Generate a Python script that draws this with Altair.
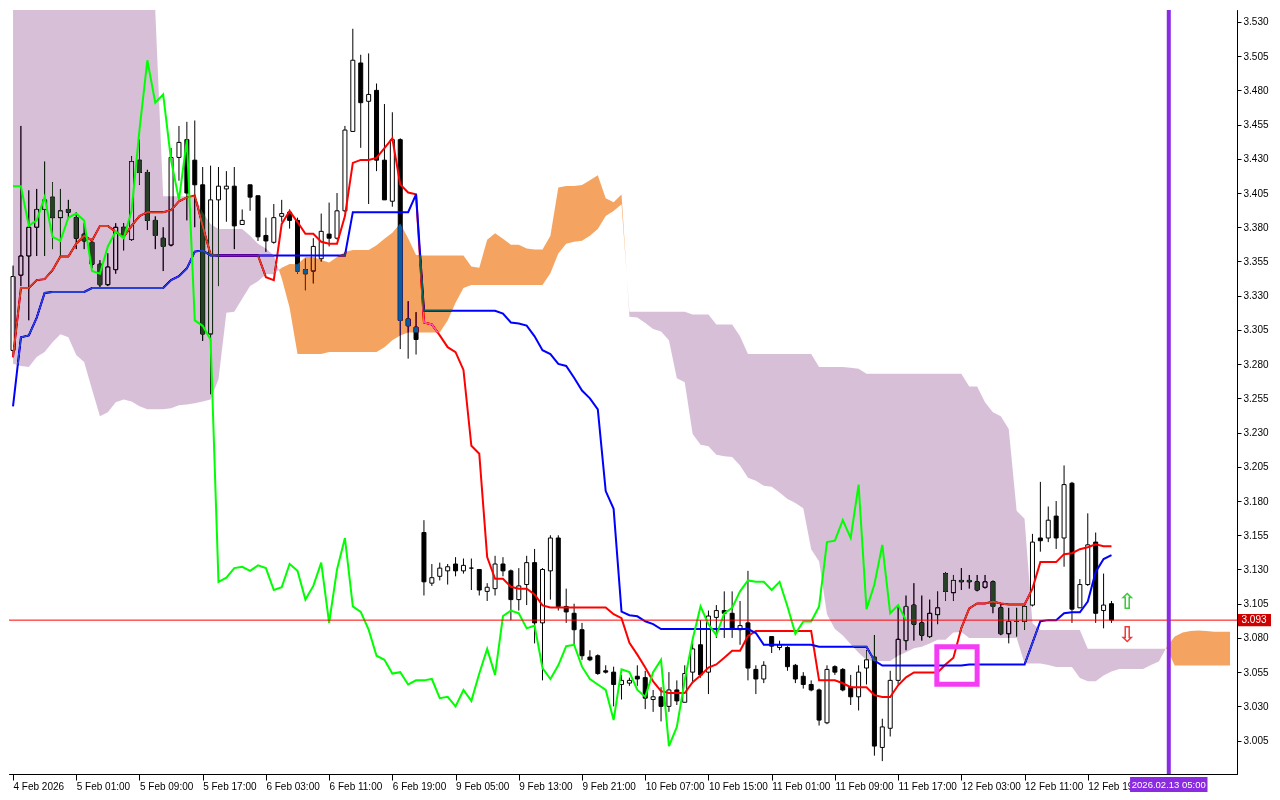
import altair as alt
import pandas as pd

# ---------------- data (H1 bars) ----------------
opens = [3.290, 3.345, 3.359, 3.380, 3.393, 3.402, 3.387, 3.393, 3.387, 3.375,
         3.369, 3.353, 3.338, 3.349, 3.380, 3.371, 3.429, 3.420, 3.385, 3.372,
         3.367, 3.431, 3.444, 3.429, 3.411, 3.302, 3.400, 3.408, 3.410, 3.382,
         3.411, 3.403, 3.374, 3.369, 3.388, 3.391, 3.385, 3.349, 3.348, 3.357,
         3.375, 3.372, 3.392, 3.450, 3.500, 3.472, 3.480, 3.429, 3.399, 3.444,
         3.313, 3.307, 3.157, 3.120, 3.125, 3.129, 3.134, 3.129, 3.131, 3.130,
         3.114, 3.116, 3.134, 3.129, 3.108, 3.119, 3.135, 3.091, 3.129, 3.153,
         3.103, 3.098, 3.086, 3.066, 3.067, 3.056, 3.055, 3.046, 3.047, 3.052,
         3.051, 3.035, 3.037, 3.030, 3.042, 3.033, 3.055, 3.075, 3.055, 3.095,
         3.100, 3.098, 3.086, 3.091, 3.057, 3.050, 3.081, 3.073, 3.073, 3.060,
         3.052, 3.046, 3.042, 3.018, 3.059, 3.057, 3.044, 3.037, 3.058, 3.066,
         3.000, 3.014, 3.049, 3.078, 3.104, 3.091, 3.081, 3.097, 3.127, 3.113,
         3.122, 3.122, 3.121, 3.117, 3.121, 3.102, 3.083, 3.092, 3.092, 3.104,
         3.153, 3.153, 3.169, 3.153, 3.193, 3.102, 3.119, 3.150, 3.100, 3.105]
highs = [3.352, 3.454, 3.407, 3.408, 3.428, 3.413, 3.408, 3.400, 3.391, 3.383,
         3.372, 3.356, 3.361, 3.383, 3.383, 3.432, 3.444, 3.422, 3.388, 3.380,
         3.438, 3.454, 3.457, 3.458, 3.424, 3.425, 3.424, 3.421, 3.424, 3.393,
         3.411, 3.403, 3.387, 3.397, 3.400, 3.393, 3.387, 3.357, 3.372, 3.390,
         3.398, 3.405, 3.454, 3.525, 3.506, 3.507, 3.485, 3.470, 3.464, 3.445,
         3.326, 3.318, 3.166, 3.134, 3.135, 3.134, 3.139, 3.138, 3.138, 3.130,
         3.120, 3.140, 3.139, 3.130, 3.131, 3.140, 3.145, 3.131, 3.155, 3.155,
         3.116, 3.105, 3.091, 3.071, 3.068, 3.060, 3.059, 3.053, 3.051, 3.060,
         3.056, 3.042, 3.044, 3.055, 3.049, 3.060, 3.076, 3.093, 3.100, 3.104,
         3.114, 3.114, 3.107, 3.129, 3.060, 3.063, 3.081, 3.078, 3.074, 3.061,
         3.055, 3.049, 3.043, 3.060, 3.060, 3.058, 3.053, 3.060, 3.071, 3.082,
         3.021, 3.056, 3.103, 3.111, 3.120, 3.111, 3.108, 3.114, 3.128, 3.126,
         3.131, 3.126, 3.126, 3.126, 3.122, 3.105, 3.102, 3.102, 3.104, 3.156,
         3.194, 3.176, 3.180, 3.206, 3.194, 3.123, 3.171, 3.157, 3.127, 3.107]
lows = [3.285, 3.337, 3.312, 3.359, 3.359, 3.364, 3.358, 3.386, 3.364, 3.364,
        3.350, 3.336, 3.337, 3.346, 3.363, 3.370, 3.411, 3.378, 3.364, 3.348,
        3.366, 3.414, 3.385, 3.380, 3.297, 3.258, 3.337, 3.384, 3.364, 3.382,
        3.392, 3.370, 3.362, 3.368, 3.384, 3.379, 3.346, 3.334, 3.339, 3.355,
        3.366, 3.371, 3.391, 3.450, 3.438, 3.397, 3.421, 3.400, 3.395, 3.291,
        3.284, 3.287, 3.111, 3.118, 3.122, 3.119, 3.125, 3.127, 3.115, 3.111,
        3.107, 3.111, 3.125, 3.093, 3.100, 3.104, 3.076, 3.049, 3.108, 3.100,
        3.091, 3.075, 3.064, 3.063, 3.053, 3.054, 3.030, 3.035, 3.045, 3.045,
        3.028, 3.026, 3.019, 3.026, 3.031, 3.033, 3.047, 3.051, 3.039, 3.080,
        3.080, 3.080, 3.075, 3.049, 3.039, 3.047, 3.069, 3.071, 3.056, 3.047,
        3.043, 3.041, 3.016, 3.017, 3.053, 3.041, 3.031, 3.027, 3.046, 2.994,
        2.990, 3.008, 3.046, 3.071, 3.078, 3.078, 3.080, 3.090, 3.107, 3.107,
        3.115, 3.116, 3.114, 3.116, 3.098, 3.082, 3.076, 3.081, 3.086, 3.103,
        3.143, 3.150, 3.145, 3.132, 3.091, 3.102, 3.118, 3.091, 3.087, 3.091]
closes = [3.344, 3.359, 3.380, 3.393, 3.400, 3.387, 3.392, 3.391, 3.372, 3.370,
          3.353, 3.338, 3.351, 3.380, 3.375, 3.428, 3.420, 3.385, 3.374, 3.366,
          3.431, 3.442, 3.405, 3.411, 3.302, 3.400, 3.410, 3.410, 3.381, 3.385,
          3.402, 3.373, 3.370, 3.387, 3.390, 3.385, 3.348, 3.346, 3.366, 3.377,
          3.372, 3.392, 3.451, 3.502, 3.471, 3.477, 3.429, 3.400, 3.444, 3.312,
          3.308, 3.298, 3.121, 3.124, 3.131, 3.132, 3.129, 3.133, 3.131, 3.115,
          3.117, 3.134, 3.129, 3.108, 3.118, 3.135, 3.091, 3.130, 3.153, 3.103,
          3.099, 3.086, 3.067, 3.064, 3.054, 3.055, 3.046, 3.049, 3.049, 3.050,
          3.036, 3.037, 3.030, 3.042, 3.034, 3.054, 3.072, 3.053, 3.096, 3.100,
          3.098, 3.087, 3.089, 3.058, 3.050, 3.060, 3.074, 3.075, 3.059, 3.050,
          3.046, 3.042, 3.020, 3.057, 3.055, 3.042, 3.037, 3.055, 3.064, 3.001,
          3.015, 3.049, 3.079, 3.103, 3.090, 3.082, 3.098, 3.102, 3.114, 3.122,
          3.121, 3.121, 3.115, 3.121, 3.103, 3.083, 3.092, 3.092, 3.103, 3.150,
          3.151, 3.166, 3.153, 3.192, 3.101, 3.119, 3.148, 3.098, 3.104, 3.093]

tenkan = [3.2852, 3.3356, 3.3356, 3.3414, 3.3421, 3.3486, 3.3586, 3.3586, 3.3680, 3.3738,
          3.3702, 3.3810, 3.3810, 3.3766, 3.3730, 3.3810, 3.3882, 3.3910, 3.3910, 3.3910,
          3.3925, 3.3990, 3.4018, 3.4033, 3.3810, 3.3601, 3.3594, 3.3594, 3.3594, 3.3594,
          3.3594, 3.3594, 3.3435, 3.3414, 3.3824, 3.3918, 3.3838, 3.3752, 3.3752, 3.3694,
          3.3680, 3.3680, 3.3882, 3.4270, 3.4292, 3.4292, 3.4306, 3.4378, 3.4450, 3.4112,
          3.4054, 3.4040, 3.3104, 3.3090, 3.3010, 3.2924, 3.2888, 3.2758, 3.2204, 3.2146,
          3.1390, 3.1232, 3.1232, 3.1174, 3.1160, 3.1160, 3.1117, 3.1038, 3.1023, 3.1023,
          3.1023, 3.1023, 3.1023, 3.1023, 3.1023, 3.1023, 3.0973, 3.0944, 3.0764, 3.0678,
          3.0584, 3.0483, 3.0411, 3.0397, 3.0397, 3.0397, 3.0476, 3.0526, 3.0584, 3.0606,
          3.0656, 3.0706, 3.0706, 3.0814, 3.0850, 3.0850, 3.0850, 3.0850, 3.0850, 3.0850,
          3.0850, 3.0850, 3.0490, 3.0490, 3.0490, 3.0469, 3.0440, 3.0440, 3.0440, 3.0382,
          3.0368, 3.0368, 3.0454, 3.0512, 3.0548, 3.0548, 3.0548, 3.0548, 3.0606, 3.0656,
          3.0872, 3.1016, 3.1052, 3.1052, 3.1066, 3.1052, 3.1045, 3.1045, 3.1045, 3.1160,
          3.1354, 3.1354, 3.1354, 3.1412, 3.1419, 3.1448, 3.1462, 3.1484, 3.1470, 3.1470]
kijun = [3.2492, 3.2996, 3.3010, 3.3140, 3.3320, 3.3327, 3.3327, 3.3327, 3.3327, 3.3327,
         3.3356, 3.3356, 3.3356, 3.3356, 3.3356, 3.3356, 3.3356, 3.3356, 3.3356, 3.3356,
         3.3414, 3.3442, 3.3500, 3.3622, 3.3630, 3.3594, 3.3594, 3.3594, 3.3594, 3.3594,
         3.3594, 3.3594, 3.3594, 3.3594, 3.3594, 3.3594, 3.3594, 3.3594, 3.3594, 3.3594,
         3.3594, 3.3594, 3.3594, 3.3910, 3.3910, 3.3910, 3.3910, 3.3910, 3.3910, 3.3910,
         3.3910, 3.4040, 3.3190, 3.3190, 3.3190, 3.3190, 3.3190, 3.3190, 3.3190, 3.3190,
         3.3190, 3.3190, 3.3169, 3.3104, 3.3097, 3.3082, 3.3003, 3.2902, 3.2874, 3.2802,
         3.2787, 3.2701, 3.2607, 3.2550, 3.2470, 3.1873, 3.1743, 3.0992, 3.0966, 3.0958,
         3.0922, 3.0901, 3.0865, 3.0865, 3.0865, 3.0865, 3.0865, 3.0865, 3.0865, 3.0865,
         3.0865, 3.0865, 3.0865, 3.0865, 3.0836, 3.0750, 3.0750, 3.0750, 3.0750, 3.0750,
         3.0750, 3.0750, 3.0735, 3.0735, 3.0735, 3.0735, 3.0735, 3.0735, 3.0735, 3.0634,
         3.0598, 3.0598, 3.0598, 3.0598, 3.0598, 3.0598, 3.0598, 3.0598, 3.0598, 3.0598,
         3.0598, 3.0606, 3.0606, 3.0606, 3.0606, 3.0606, 3.0606, 3.0606, 3.0606, 3.0764,
         3.0922, 3.0930, 3.0930, 3.0980, 3.0987, 3.0987, 3.1066, 3.1282, 3.1376, 3.1405]
span_a = [3.2802, 3.2787, 3.2780, 3.2852, 3.2888, 3.2960, 3.3018, 3.2996, 3.2866, 3.2816,
          3.2614, 3.2420, 3.2449, 3.2521, 3.2542, 3.2528, 3.2492, 3.2470, 3.2470, 3.2470,
          3.2478, 3.2500, 3.2506, 3.2514, 3.2528, 3.2542, 3.2690, 3.3176, 3.3183, 3.3277,
          3.3370, 3.3406, 3.3457, 3.3457, 3.3504, 3.3532, 3.3529, 3.3583, 3.3583, 3.3561,
          3.3543, 3.3583, 3.3619, 3.3633, 3.3633, 3.3633, 3.3669, 3.3716, 3.3759, 3.3828,
          3.3720, 3.3597, 3.3594, 3.3594, 3.3594, 3.3594, 3.3594, 3.3594, 3.3514, 3.3504,
          3.3709, 3.3756, 3.3716, 3.3673, 3.3673, 3.3644, 3.3637, 3.3637, 3.3738, 3.4090,
          3.4101, 3.4101, 3.4108, 3.4144, 3.4180, 3.4011, 3.3982, 3.4040, 3.3147, 3.3140,
          3.3100, 3.3057, 3.3039, 3.2974, 3.2697, 3.2668, 3.2290, 3.2211, 3.2200, 3.2139,
          3.2128, 3.2121, 3.2060, 3.1970, 3.1948, 3.1912, 3.1905, 3.1862, 3.1815, 3.1786,
          3.1747, 3.1448, 3.1358, 3.0973, 3.0865, 3.0818, 3.0753, 3.0692, 3.0638, 3.0631,
          3.0631, 3.0631, 3.0670, 3.0696, 3.0724, 3.0735, 3.0760, 3.0786, 3.0786, 3.0840,
          3.0843, 3.0800, 3.0800, 3.0800, 3.0800, 3.0800, 3.0800, 3.0800, 3.0613, 3.0613,
          3.0613, 3.0602, 3.0588, 3.0588, 3.0588, 3.0508, 3.0483, 3.0483, 3.0526, 3.0555,
          3.0573, 3.0573, 3.0573, 3.0573, 3.0602, 3.0628, 3.0735, 3.0811, 3.0840, 3.0850,
          3.0855, 3.0850, 3.0845, 3.0845, 3.0845]
span_b = [3.565, 3.565, 3.565, 3.565, 3.565, 3.565, 3.565, 3.565, 3.565, 3.565,
          3.565, 3.565, 3.565, 3.565, 3.565, 3.565, 3.565, 3.565, 3.565, 3.4026,
          3.4026, 3.4026, 3.4026, 3.4026, 3.3910, 3.3824, 3.3788, 3.3788, 3.3788, 3.3788,
          3.3738, 3.3680, 3.3644, 3.3594, 3.3428, 3.3212, 3.2874, 3.2874, 3.2874, 3.2874,
          3.2888, 3.2888, 3.2888, 3.2888, 3.2888, 3.2888, 3.2888, 3.2924, 3.2974, 3.3010,
          3.3032, 3.3032, 3.3032, 3.3032, 3.3032, 3.3118, 3.3248, 3.3356, 3.3378, 3.3378,
          3.3378, 3.3378, 3.3378, 3.3378, 3.3378, 3.3378, 3.3378, 3.3378, 3.3464, 3.3608,
          3.3680, 3.3694, 3.3702, 3.3738, 3.3788, 3.3882, 3.3918, 3.3968, 3.3183, 3.3183,
          3.3183, 3.3183, 3.3183, 3.3183, 3.3183, 3.3183, 3.3162, 3.3162, 3.3162, 3.3090,
          3.3090, 3.3090, 3.3003, 3.2874, 3.2874, 3.2874, 3.2874, 3.2874, 3.2874, 3.2874,
          3.2874, 3.2874, 3.2780, 3.2780, 3.2780, 3.2780, 3.2773, 3.2766, 3.2730, 3.2730,
          3.2730, 3.2730, 3.2730, 3.2730, 3.2730, 3.2730, 3.2730, 3.2730, 3.2730, 3.2730,
          3.2730, 3.2636, 3.2636, 3.2521, 3.2449, 3.2420, 3.2326, 3.1729, 3.1671, 3.0908,
          3.0858, 3.0858, 3.0858, 3.0858, 3.0858, 3.0858, 3.0721, 3.0721, 3.0721, 3.0721,
          3.0721, 3.0721, 3.0721, 3.0721, 3.0721, 3.0721, 3.0721, 3.0598, 3.0598, 3.0598,
          3.0598, 3.0598, 3.0598, 3.0598, 3.0598]

chikou_shift = 26
x_tick_bars = [0, 8, 16, 24, 32, 40, 48, 56, 64, 72, 80, 88, 96, 104, 112, 120, 128, 136]
x_tick_labels = ["4 Feb 2026", "5 Feb 01:00", "5 Feb 09:00", "5 Feb 17:00", "6 Feb 03:00",
                 "6 Feb 11:00", "6 Feb 19:00", "9 Feb 05:00", "9 Feb 13:00", "9 Feb 21:00",
                 "10 Feb 07:00", "10 Feb 15:00", "11 Feb 01:00", "11 Feb 09:00", "11 Feb 17:00",
                 "12 Feb 03:00", "12 Feb 11:00", "12 Feb 19:00"]
y_tick_values = [3.005, 3.030, 3.055, 3.080, 3.105, 3.130, 3.155, 3.180, 3.205, 3.230, 3.255,
                 3.280, 3.305, 3.330, 3.355, 3.380, 3.405, 3.430, 3.455, 3.480, 3.505, 3.530]
last_price = 3.093
marker_bar = 146.25
marker_label = "2026.02.13 05:00"
box_bars = [116.9, 122.0]
box_prices = [3.0461, 3.0735]
arrow_bars = [141, 141]
arrow_prices = [3.1060, 3.0825]
arrow_glyphs = ["\u21e7", "\u21e9"]
arrow_colors = ["#3CCB3C", "#F03A3A"]

# ---------------- layout / style ----------------
W, H = 1228, 764
FONT = "Liberation Sans"
xs = alt.Scale(domain=[0.125, 154.25], nice=False, zero=False)
ys = alt.Scale(domain=[2.9806, 3.5387], nice=False, zero=False, clamp=True)
LABEL_HALF_BARS = 4.9
PRICE_HALF = 0.0045

label_expr = "[" + ",".join("'%s'" % s for s in x_tick_labels) + "][round(datum.value / 8)]"
x_axis = alt.Axis(values=x_tick_bars, labelExpr=label_expr, orient="bottom", title=None,
                  grid=False, tickSize=6, labelAlign="left", labelBaseline="top",
                  labelPadding=1, labelFlush=False, labelOverlap=False)
y_axis = alt.Axis(values=y_tick_values, format=".3f", orient="right", title=None,
                  grid=False, tickSize=4, labelPadding=2, labelFlush=False, labelOverlap=False)

def X(field):
    return alt.X(field, type="quantitative", scale=xs, axis=x_axis)

def Y(field):
    return alt.Y(field, type="quantitative", scale=ys, axis=y_axis)

# white backdrop inside the plot (needed for the blend of the cloud)
bg = alt.Chart(pd.DataFrame({"k": [0]})).mark_rect(color="white").encode(
    x=alt.value(0), x2=alt.value(W), y=alt.value(0), y2=alt.value(H))

# candles
cdf = pd.DataFrame({"bar": list(range(len(opens))), "open": opens, "high": highs,
                    "low": lows, "close": closes})
cdf["body_fill"] = ["white" if c >= o else "black" for o, c in zip(opens, closes)]

wicks = alt.Chart(cdf).mark_rule(color="black", strokeWidth=1).encode(
    x=X("bar"), y=Y("low"), y2="high")
bodies = alt.Chart(cdf).mark_bar(size=4, stroke="black", strokeWidth=1).encode(
    x=X("bar"), y=Y("open"), y2="close", fill=alt.Fill("body_fill:N", scale=None))

# tenkan / kijun
ldf = pd.DataFrame({"bar": list(range(len(tenkan))), "tenkan": tenkan, "kijun": kijun})
tenkan_line = alt.Chart(ldf).mark_line(color="#FF0000", strokeWidth=2).encode(
    x=X("bar"), y=Y("tenkan"))
kijun_line = alt.Chart(ldf).mark_line(color="#0000FF", strokeWidth=2).encode(
    x=X("bar"), y=Y("kijun"))

# chikou: close plotted 26 bars back
chdf = pd.DataFrame({"bar": list(range(len(closes) - chikou_shift)),
                     "chikou": closes[chikou_shift:]})
chikou_line = alt.Chart(chdf).mark_line(color="#00FF00", strokeWidth=2).encode(
    x=X("bar"), y=Y("chikou"))

# cloud (split into orange / purple parts at crossings)
rows = []
n = len(span_a)
for j in range(n):
    a, b = span_a[j], span_b[j]
    rows.append({"bar": j, "o_lo": min(a, b), "o_hi": a, "p_lo": min(a, b), "p_hi": b})
    if j + 1 < n:
        d0 = a - b
        d1 = span_a[j + 1] - span_b[j + 1]
        if d0 * d1 < 0:
            t = d0 / (d0 - d1)
            v = a + t * (span_a[j + 1] - a)
            rows.append({"bar": j + t, "o_lo": v, "o_hi": v, "p_lo": v, "p_hi": v})
kdf = pd.DataFrame(rows)
# inverted colours + difference blend reproduce MT4's drawing over candles and lines
cloud_purple = alt.Chart(kdf).mark_area(color="#274027", blend="difference",
                                         strokeWidth=0).encode(
    x=X("bar"), y=Y("p_hi"), y2="p_lo")
cloud_orange = alt.Chart(kdf).mark_area(color="#0B5B9F", blend="difference",
                                         strokeWidth=0).encode(
    x=X("bar"), y=Y("o_hi"), y2="o_lo")

# annotations
pdf = pd.DataFrame({"price": [last_price], "lo": [last_price - PRICE_HALF],
                    "hi": [last_price + PRICE_HALF], "txt": ["%.3f" % last_price]})
price_line = alt.Chart(pdf).mark_rule(color="#FF0000", strokeWidth=1).encode(y=Y("price"))
price_box = alt.Chart(pdf).mark_rect(color="#D00000").encode(
    x=alt.value(W + 1), x2=alt.value(W + 34), y=Y("lo"), y2="hi")
price_txt = alt.Chart(pdf).mark_text(color="white", fontSize=10, font=FONT,
                                     align="center", baseline="middle").encode(
    x=alt.value(W + 17), y=Y("price"), text="txt:N")

bdf = pd.DataFrame({"x1": [box_bars[0]], "x2": [box_bars[1]],
                    "y1": [box_prices[0]], "y2": [box_prices[1]]})
mag_box = alt.Chart(bdf).mark_rect(fillOpacity=0, stroke="#F43CF4", strokeWidth=5).encode(
    x=X("x1"), x2="x2", y=Y("y1"), y2="y2")

adf = pd.DataFrame({"bar": arrow_bars, "price": arrow_prices, "g": arrow_glyphs,
                    "c": arrow_colors})
arrows = alt.Chart(adf).mark_text(fontSize=22, font="DejaVu Sans", fontWeight="bold",
                                  align="center", baseline="middle").encode(
    x=X("bar"), y=Y("price"), text="g:N", color=alt.Color("c:N", scale=None))

mdf = pd.DataFrame({"bar": [marker_bar], "l": [marker_bar - LABEL_HALF_BARS],
                    "r": [marker_bar + LABEL_HALF_BARS], "txt": [marker_label]})
vline = alt.Chart(mdf).mark_rule(color="#8A2BE2", strokeWidth=4).encode(x=X("bar"))
date_box = alt.Chart(mdf).mark_rect(color="#8A2BE2").encode(
    x=X("l"), x2="r", y=alt.value(H + 3), y2=alt.value(H + 18))
date_txt = alt.Chart(mdf).mark_text(color="white", fontSize=9.5, font=FONT,
                                    align="center", baseline="middle").encode(
    x=X("bar"), y=alt.value(H + 11), text="txt:N")

chart = alt.layer(
    bg, wicks, bodies, tenkan_line, kijun_line, cloud_purple, cloud_orange, chikou_line,
    price_line, mag_box, arrows, vline, price_box, price_txt, date_box, date_txt
).properties(
    width=W, height=H, padding=0, background="white"
).configure_view(
    stroke="black", strokeWidth=1
).configure_axis(
    labelFont=FONT, labelFontSize=10, labelColor="black",
    domainColor="black", tickColor="black", domainWidth=1, tickWidth=1
)

chart.save("out.html", embed_options={"renderer": "svg", "actions": False})
